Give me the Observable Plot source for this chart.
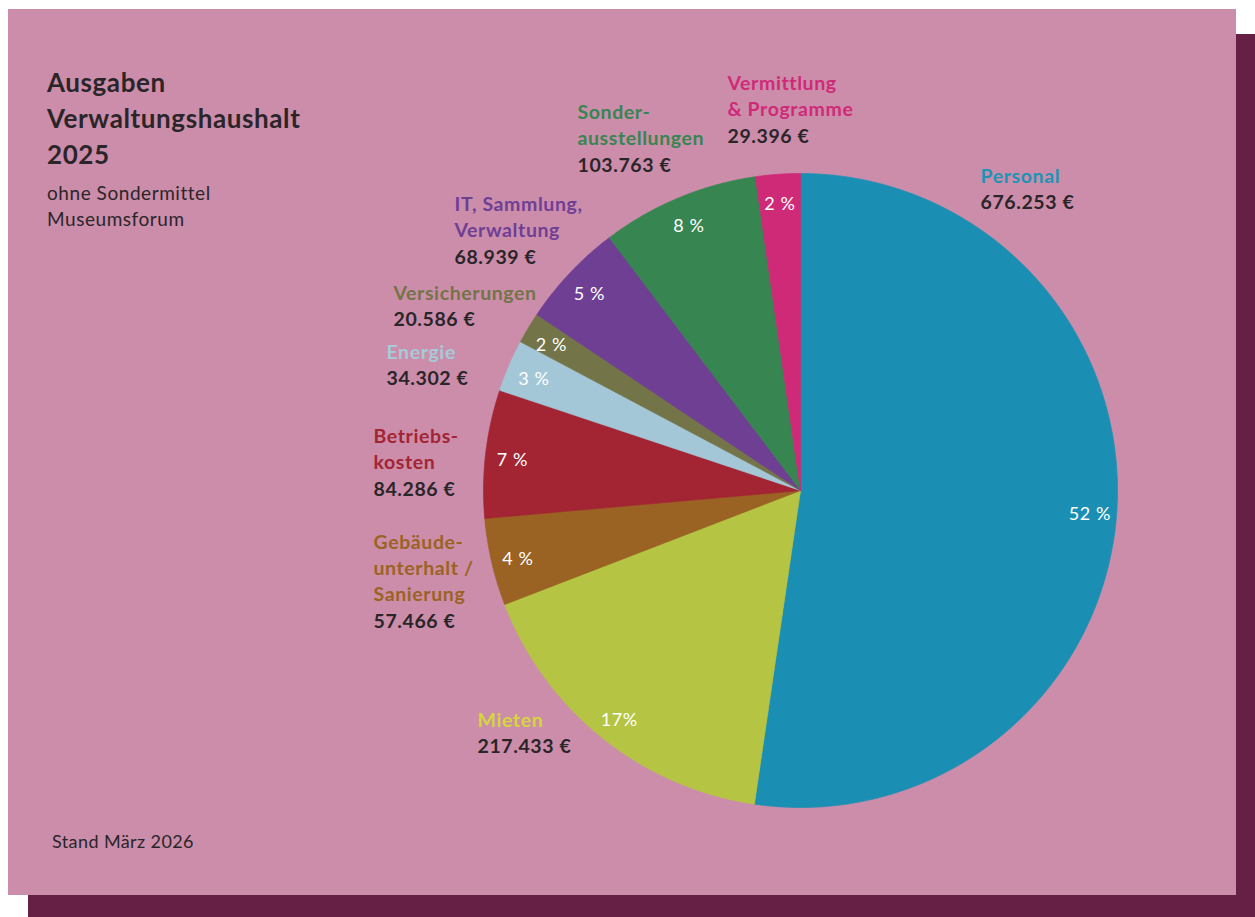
<!DOCTYPE html>
<html>
<head>
<meta charset="utf-8">
<script src="https://cdn.jsdelivr.net/npm/d3@7"></script>
<script src="https://cdn.jsdelivr.net/npm/@observablehq/plot@0.6"></script>
<style>
html,body{margin:0;padding:0;background:#ffffff;}
#wrap{position:relative;width:1255px;height:917px;overflow:hidden;font-family:Lato,"Noto Sans",sans-serif;}
#shadow{position:absolute;left:28px;top:34px;width:1240px;height:900px;background:#672045;}
#panel{position:absolute;left:8px;top:9px;width:1228px;height:886px;background:#CC8DAB;}
#title{position:absolute;left:47px;top:64px;font-weight:700;font-size:26px;letter-spacing:0.6px;line-height:36px;color:#2a2528;}
#sub{position:absolute;left:47px;top:180px;font-size:19px;letter-spacing:0.55px;line-height:26px;color:#2a2528;}
#foot{position:absolute;left:52px;top:830px;font-size:18px;letter-spacing:0.4px;color:#2a2528;}
#chart{position:absolute;left:0;top:0;}
</style>
</head>
<body>
<div id="wrap">
  <div id="shadow"></div>
  <div id="panel"></div>
  <div id="title">Ausgaben<br>Verwaltungshaushalt<br>2025</div>
  <div id="sub">ohne Sondermittel<br>Museumsforum</div>
  <div id="foot">Stand März 2026</div>
  <div id="chart"></div>
</div>
<script>
// ---- data ----
const categories = ["Personal","Mieten","Gebäudeunterhalt / Sanierung","Betriebskosten","Energie","Versicherungen","IT, Sammlung, Verwaltung","Sonderausstellungen","Vermittlung & Programme"];
const labelLines = [["Personal"],["Mieten"],["Gebäude-","unterhalt /","Sanierung"],["Betriebs-","kosten"],["Energie"],["Versicherungen"],["IT, Sammlung,","Verwaltung"],["Sonder-","ausstellungen"],["Vermittlung","& Programme"]];
const amounts = [676253,217433,57466,84286,34302,20586,68939,103763,29396];
const shareLabels = ["52 %","17%","4 %","7 %","3 %","2 %","5 %","8 %","2 %"];

// ---- styles / layout ----
const sliceColors = ["#1A8FB3","#B5C443","#9A6323","#A32432","#A3C7D6","#737447","#6F3F94","#378550","#CF2A78"];
const labelColors = ["#1E93B6","#D4D63A","#9A6323","#A32432","#A6CAD8","#737447","#6F3F94","#378550","#CF2A78"];
// left edge and first-line baseline of each label block, in page pixels
const labelAt = [[980,182],[477,726],[373,548],[373,442],[386,358],[393,299],[454,210],[577,118],[727,89]];

const W = 1255, H = 917, CX = 800, CY = 490, R = 317;
const FS = 19.5, LH = 26.5;
const topShift = 0.71 * LH; // Plot's baseline offset for lineAnchor "top"

const loc = d3.formatLocale({decimal: ",", thousands: ".", grouping: [3], currency: ["", " €"]});
const fmt = v => loc.format(",d")(v) + " €";

const rows = categories.map((c, i) => ({cat: c, amount: amounts[i], i}));
const arcs = d3.pie().sort(null).value(d => d.amount)(rows);

const slicePts = [];
for (const a of arcs) {
  slicePts.push({cat: a.data.cat, i: a.data.i, x: 0, y: 0});
  const n = Math.max(2, Math.ceil((a.endAngle - a.startAngle) / 0.004));
  for (let k = 0; k <= n; k++) {
    const t = a.startAngle + (a.endAngle - a.startAngle) * k / n;
    slicePts.push({cat: a.data.cat, i: a.data.i, x: Math.sin(t), y: Math.cos(t)});
  }
  slicePts.push({cat: a.data.cat, i: a.data.i, x: 0, y: 0});
}

const pctPts = arcs.map(a => {
  const m = (a.startAngle + a.endAngle) / 2;
  return {i: a.data.i, x: 0.915 * Math.sin(m), y: 0.915 * Math.cos(m), label: shareLabels[a.data.i]};
});

const labels = rows.map((d, i) => ({
  i,
  x: (labelAt[i][0] - CX) / R,
  y: (CY - (labelAt[i][1] - topShift)) / R,
  name: labelLines[i].join("\n"),
  nLines: labelLines[i].length,
  value: fmt(d.amount)
}));

const chart = Plot.plot({
  width: W,
  height: H,
  margin: 0,
  style: {background: "transparent", fontFamily: "Lato, 'Noto Sans', sans-serif", letterSpacing: "0.6px"},
  x: {domain: [-CX / R, (W - CX) / R], axis: null},
  y: {domain: [(CY - H) / R, CY / R], axis: null},
  marks: [
    Plot.line(slicePts, {x: "x", y: "y", z: "cat", fill: d => sliceColors[d.i], stroke: d => sliceColors[d.i], strokeWidth: 0.7, curve: "linear"}),
    Plot.text(pctPts, {x: "x", y: "y", text: "label", fill: "#ffffff", fontSize: 18, textAnchor: "middle", dy: 3}),
    Plot.text(labels, {x: "x", y: "y", text: "name", fill: d => labelColors[d.i], fontSize: FS, fontWeight: 700, textAnchor: "start", lineAnchor: "top", lineHeight: LH / FS}),
    ...labels.map(l => Plot.text([l], {x: "x", y: "y", text: "value", fill: "#2a2528", fontSize: FS, fontWeight: 700, textAnchor: "start", lineAnchor: "top", lineHeight: LH / FS, dy: l.nLines * LH}))
  ]
});
document.getElementById("chart").appendChild(chart);
</script>
</body>
</html>
